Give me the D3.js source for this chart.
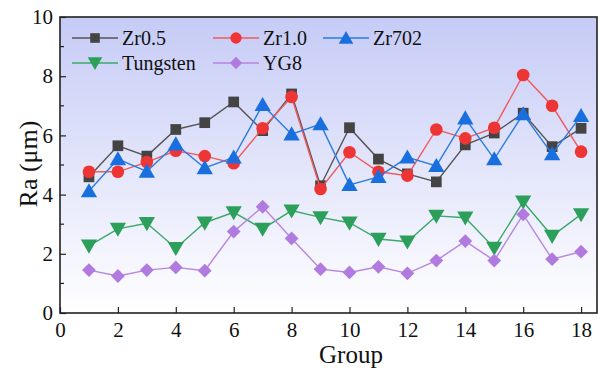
<!DOCTYPE html>
<head>
<meta charset="utf-8">
<style>
body { margin: 0; background: #fff; }
svg { display: block; }
</style>
</head>
<body>
<svg width="600" height="371"></svg>
<script src="https://cdn.jsdelivr.net/npm/d3@7"></script>
<script>
// data
var groups = d3.range(1, 19);
var zr05 = [4.6, 5.65, 5.3, 6.2, 6.43, 7.13, 6.16, 7.4, 4.3, 6.26, 5.2, 4.7, 4.43, 5.68, 6.08, 6.75, 5.62, 6.24];
var zr10 = [4.77, 4.77, 5.1, 5.48, 5.3, 5.06, 6.24, 7.3, 4.19, 5.43, 4.77, 4.64, 6.2, 5.9, 6.26, 8.04, 7.0, 5.45];
var zr702 = [4.12, 5.2, 4.78, 5.7, 4.9, 5.26, 7.03, 6.04, 6.38, 4.33, 4.6, 5.26, 4.97, 6.58, 5.2, 6.72, 5.37, 6.66];
var tungsten = [2.27, 2.84, 3.03, 2.19, 3.05, 3.4, 2.84, 3.46, 3.23, 3.05, 2.5, 2.41, 3.28, 3.22, 2.2, 3.76, 2.6, 3.33];
var yg8 = [1.45, 1.25, 1.45, 1.54, 1.43, 2.75, 3.59, 2.52, 1.48, 1.37, 1.56, 1.34, 1.77, 2.43, 1.77, 3.33, 1.82, 2.07];
var xTicks = [0, 2, 4, 6, 8, 10, 12, 14, 16, 18];
var yTicks = [0, 2, 4, 6, 8, 10];

var serif = "'Liberation Serif', 'Times New Roman', serif";

// diamond = square turned 45deg
var series = [
  {name: "Zr0.5", vals: zr05, line: "#555", fill: "#444", sym: d3.symbolSquare, size: 115, rot: 0, dy: 0},
  {name: "Zr1.0", vals: zr10, line: "#f05a5a", fill: "#ee3535", sym: d3.symbolCircle, size: 125, rot: 0, dy: 0},
  {name: "Zr702", vals: zr702, line: "#2a7be0", fill: "#1a6fdf", sym: d3.symbolTriangle, size: 115, rot: 0, dy: 1.5},
  {name: "Tungsten", vals: tungsten, line: "#3aa86a", fill: "#2ca05a", sym: d3.symbolTriangle, size: 115, rot: 180, dy: -1.5},
  {name: "YG8", vals: yg8, line: "#b784e3", fill: "#b07adf", sym: d3.symbolSquare, size: 95, rot: 45, dy: 0}
];

var svg = d3.select("svg"),
    margin = {top: 17, right: 3, bottom: 58, left: 60},
    width = 600 - margin.left - margin.right,
    height = 371 - margin.top - margin.bottom;

var x = d3.scaleLinear().domain([0, 18.55]).range([0, width]);
var y = d3.scaleLinear().domain([0, 10]).range([height, 0]);

var defs = svg.append("defs");
var grad = defs.append("linearGradient").attr("id", "bg").attr("x1", 0).attr("y1", 0).attr("x2", 0).attr("y2", 1);
grad.append("stop").attr("offset", "0%").attr("stop-color", "#c6cbf6");
grad.append("stop").attr("offset", "100%").attr("stop-color", "#ffffff");

var g = svg.append("g").attr("transform", "translate(" + margin.left + "," + margin.top + ")");

g.append("rect").attr("width", width).attr("height", height).attr("fill", "url(#bg)");

// axes, ticks pointing inwards
var xAxis = g.append("g").attr("transform", "translate(0," + height + ")")
    .call(d3.axisBottom(x).tickValues(xTicks).tickSizeInner(-6).tickSizeOuter(0).tickPadding(9));
var yAxis = g.append("g")
    .call(d3.axisLeft(y).tickValues(yTicks).tickSizeInner(-6).tickSizeOuter(0).tickPadding(7));
// minor y ticks
g.append("g").selectAll("line").data([1, 3, 5, 7, 9]).enter().append("line")
    .attr("x1", 0).attr("x2", 4).attr("y1", y).attr("y2", y)
    .attr("stroke", "#222").attr("stroke-width", 1.2);
[xAxis, yAxis].forEach(function(a) {
  a.attr("font-family", serif).attr("font-size", 21);
  a.selectAll("line").attr("stroke", "#222").attr("stroke-width", 1.2);
  a.selectAll("text").attr("fill", "#111").style("font-family", serif).style("font-size", "21px");
  a.select(".domain").remove();
});
g.append("rect").attr("width", width).attr("height", height)
    .attr("fill", "none").attr("stroke", "#222").attr("stroke-width", 1.6);

svg.append("text").attr("x", 351).attr("y", 363)
    .attr("text-anchor", "middle").style("font-family", serif).style("font-size", "25px").attr("fill", "#111").text("Group");
svg.append("text").attr("transform", "translate(37,164) rotate(-90)")
    .attr("text-anchor", "middle").style("font-family", serif).style("font-size", "26px").attr("fill", "#111").text("Ra (\u03bcm)");

var line = d3.line().x(function(d, i) { return x(groups[i]); }).y(function(d) { return y(d); });

series.forEach(function(s) {
  g.append("path").datum(s.vals).attr("d", line)
      .attr("fill", "none").attr("stroke", s.line).attr("stroke-width", 1.4);
  g.selectAll(null).data(s.vals).enter().append("path")
      .attr("d", d3.symbol().type(s.sym).size(s.size))
      .attr("transform", function(d, i) {
        return "translate(" + x(groups[i]) + "," + (y(d) + s.dy) + ") rotate(" + s.rot + ")";
      })
      .attr("fill", s.fill);
});

// legend
var legPos = [[12, 21], [153, 21], [263, 21], [12, 46], [153, 46]];
series.forEach(function(s, i) {
  var lg = g.append("g").attr("transform", "translate(" + legPos[i][0] + "," + legPos[i][1] + ")");
  lg.append("line").attr("x1", 0).attr("x2", 46).attr("stroke", s.line).attr("stroke-width", 1.4);
  lg.append("path").attr("d", d3.symbol().type(s.sym).size(s.size * 0.8))
      .attr("transform", "translate(23," + s.dy + ") rotate(" + s.rot + ")")
      .attr("fill", s.fill);
  lg.append("text").attr("x", 50).attr("y", 7).attr("fill", "#111")
      .style("font-family", serif).style("font-size", "20px").text(s.name);
});
</script>
</body>
